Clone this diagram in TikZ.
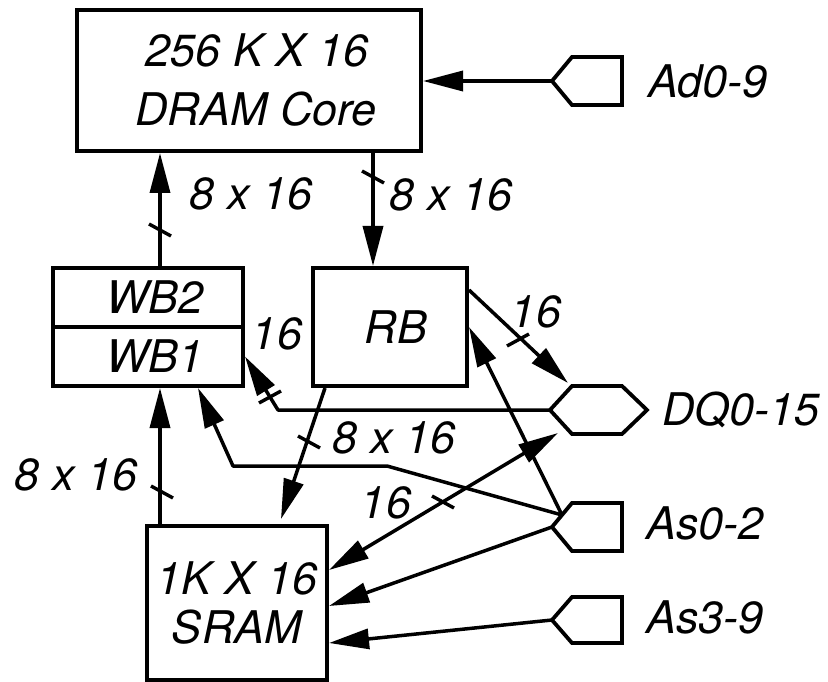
\documentclass[tikz,border=0pt]{standalone}
\usepackage{fontspec}
\setmainfont{TeX Gyre Heros}
\usetikzlibrary{arrows.meta,calc}
\begin{document}
\begin{tikzpicture}[x=1pt,y=-1pt,
  every node/.style={font=\fontsize{45}{54}\selectfont\itshape, inner sep=0pt},
  box/.style={draw, line width=4pt, align=center},
  conn/.style={line width=3.5pt, line join=round},
  arr/.style={conn, -{Triangle[length=40pt,width=20pt]}},
  arrb/.style={conn, {Triangle[length=40pt,width=20pt]}-{Triangle[length=40pt,width=20pt]}},
  padline/.style={line width=3.8pt, line join=miter},
  tickmark/.style={line width=3.4pt},
  lbl/.style={anchor=center}
]
\useasboundingbox (0,0) rectangle (828,682);

% boxes
\node[box, minimum width=344pt, minimum height=141pt, font=\fontsize{45}{59}\selectfont\itshape] (dram) at (249,80.5) {\hspace*{16pt}256 K X 16\\\hspace*{14pt}DRAM Core};
\node[box, minimum width=190pt, minimum height=59pt] (WB2) at (148,297.5) {\hspace*{14pt}WB2};
\node[box, minimum width=190pt, minimum height=59pt] (WB1) at (148,356.5) {\hspace*{14pt}WB1};
\node[box, minimum width=154pt, minimum height=118pt] (RB) at (390,327) {\hspace*{12pt}RB};
\node[box, minimum width=180pt, minimum height=154pt, font=\fontsize{45}{49}\selectfont\itshape] (SRAM) at (237,603) {1K X 16\\SRAM};

% pads (tips)
\coordinate (ad) at (552,81);
\coordinate (dqL) at (550,410);
\coordinate (as02) at (552,527);
\coordinate (as02a) at (562,515);
\coordinate (as39) at (552,620);
\draw[padline] (ad) -- ++(20,-24) -- ++(50,0) -- ++(0,48) -- ++(-50,0) -- cycle;
\draw[padline] (dqL) -- ++(22,-24) -- ++(50,0) -- ++(25,24) -- ++(-25,24) -- ++(-50,0) -- cycle;
\draw[padline] (as02) -- ++(20,-24) -- ++(50,0) -- ++(0,48) -- ++(-50,0) -- cycle;
\draw[padline] (as39) -- ++(20,-23) -- ++(50,0) -- ++(0,46) -- ++(-50,0) -- cycle;

\node[anchor=west] (adl) at (648,81) {Ad0-9};
\node[anchor=west] (dql) at (662,410) {DQ0-15};
\node[anchor=west] (as02l) at (646,523) {As0-2};
\node[anchor=west] (as39l) at (646,617) {As3-9};

% connector end points
\coordinate (wbup) at ($(WB2.north)+(12,0)$);
\coordinate (rbtop) at ($(RB.north)+(-17,0)$);
\coordinate (rbr) at ($(RB.north east)+(0,24)$);
\coordinate (dqtl) at (568,383);
\coordinate (dqbl) at (558,433);
\coordinate (bend1) at (278,410);
\coordinate (bend2) at (387,466);
\coordinate (bend3) at (233,466);
\coordinate (wb1b) at ($(WB1.south)+(50,0)$);
\coordinate (sr1) at ($(SRAM.east)+(0,-33)$);
\coordinate (sr2) at ($(SRAM.east)+(0,3)$);
\coordinate (sr3) at ($(SRAM.east)+(0,40)$);
\coordinate (rbb) at ($(RB.south west)+(14,0)$);
\coordinate (srt) at ($(SRAM.north west)+(136,-5)$);
\coordinate (srup) at ($(SRAM.north west)+(15,0)$);

% connectors
\draw[arr] (ad) -- (ad -| dram.east);
\draw[arr] (wbup) -- (wbup |- dram.south);
\draw[arr] (rbtop |- dram.south) -- (rbtop);
\draw[arr] (rbr) -- (dqtl);
\draw[arr] (dqL) -- (bend1) -- (WB1.east);
\draw[arr] (as02a) -- (bend2) -- (bend3) -- (wb1b);
\draw[arr] (as02a) -- (RB.east);
\draw[arr] (as02) -- (sr2);
\draw[arrb] (dqbl) -- (sr1);
\draw[arr] (as39) -- (sr3);
\draw[arr] (rbb) -- (srt);
\draw[arr] (srup) -- (srup |- WB1.south);

% bus width ticks
\draw[tickmark] (160,230) ++(-11,-6) -- ++(22,12);
\draw[tickmark] (373,177) ++(-11,-6) -- ++(22,12);
\draw[tickmark] (518,340) ++(-11,6) -- ++(22,-12);
\draw[tickmark] (270,397) ++(-11,6) -- ++(22,-12);
\draw[tickmark] (309,442) ++(-11,-6) -- ++(22,12);
\draw[tickmark] (443,502) ++(-11,-6) -- ++(22,12);
\draw[tickmark] (162,492) ++(-11,-6) -- ++(22,12);

% labels
\node[lbl] (l1) at (251,194) {8 x 16};
\node[lbl] (l2) at (451,195) {8 x 16};
\node[lbl] (l3) at (277,334) {16};
\node[lbl] (l4) at (536,312) {16};
\node[lbl] (l5) at (394,438) {8 x 16};
\node[lbl] (l6) at (76,475) {8 x 16};
\node[lbl] (l7) at (386,503) {16};
\end{tikzpicture}
\end{document}
